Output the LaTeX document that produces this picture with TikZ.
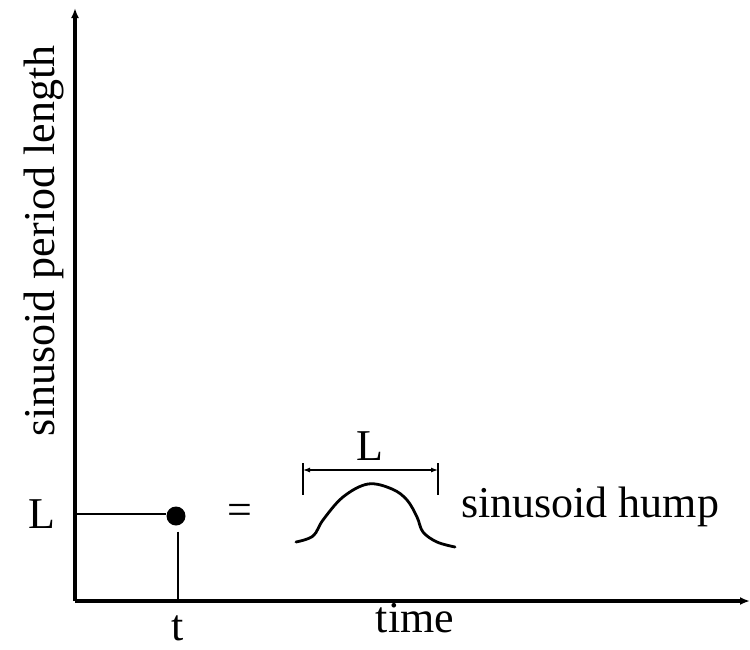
\documentclass[tikz,border=0pt]{standalone}
\usepackage{fontspec}
\setmainfont{Liberation Serif}
\usetikzlibrary{arrows.meta}

\begin{document}
\begin{tikzpicture}[
    x=1pt, y=-1pt,
    label_text/.style={font=\fontsize{44}{50}\selectfont, inner sep=0pt},
    axis_style/.style={draw, line width=3.2pt, -{Latex[length=10pt, width=8pt]}},
    guide_style/.style={draw, line width=1.2pt},
    dim_style/.style={draw, line width=1.2pt, {Latex[length=7pt, width=5pt]}-{Latex[length=7pt, width=5pt]}},
    hump_style/.style={draw, line width=2.8pt, line join=round, line cap=round},
    point_style/.style={circle, fill=black, minimum size=19pt, inner sep=0pt}
]
  \useasboundingbox (0,0) rectangle (750,649);
  % Axes
  \coordinate (origin) at (75,601);
  \coordinate (y_end) at (75,8);
  \coordinate (x_end) at (750,601);
  \draw[axis_style] (origin) -- (y_end);
  \draw[axis_style] (origin) -- (x_end);
  % The point (t, L) and its guides
  \node[point_style] (pt) at (176,516) {};
  \coordinate (L_foot) at (77,514);
  \coordinate (t_foot) at (178,601);
  \draw[guide_style] (L_foot) -- (L_foot -| pt.west);
  \draw[guide_style] (t_foot |- pt.south) ++(0,6) coordinate (t_top) (t_top) -- (t_foot);
  % Axis labels
  \node[label_text, anchor=base west, rotate=90] (y_lab) at (54,437) {sinusoid period length};
  \node[label_text, anchor=base] (x_lab) at (415,632) {time};
  \node[label_text, anchor=base] (L_lab) at (42,528) {L};
  \node[label_text, anchor=base] (t_lab) at (178,640) {t};
  \node[label_text] (eq) at (240,514) {=};
  % Sinusoid hump
  \draw[hump_style] plot[smooth, tension=0.6] coordinates {
    (296,542) (313,536) (323,520) (343,497) (368,484) (392,489)
    (407,500) (417,517) (423,532) (437,542) (455,547)};
  % Period marker
  \coordinate (dim_a) at (303,463);
  \coordinate (dim_b) at (438,463);
  \draw[guide_style] (dim_a) -- ++(0,32);
  \draw[guide_style] (dim_b) -- ++(0,32);
  \draw[dim_style] (dim_a) ++(0,7) coordinate (dim_l) (dim_b) ++(0,7) coordinate (dim_r) (dim_l) -- (dim_r);
  \node[label_text, anchor=base] (period_lab) at (370,460) {L};
  \node[label_text, anchor=base west] (hump_lab) at (461,517) {sinusoid hump};
\end{tikzpicture}
\end{document}
